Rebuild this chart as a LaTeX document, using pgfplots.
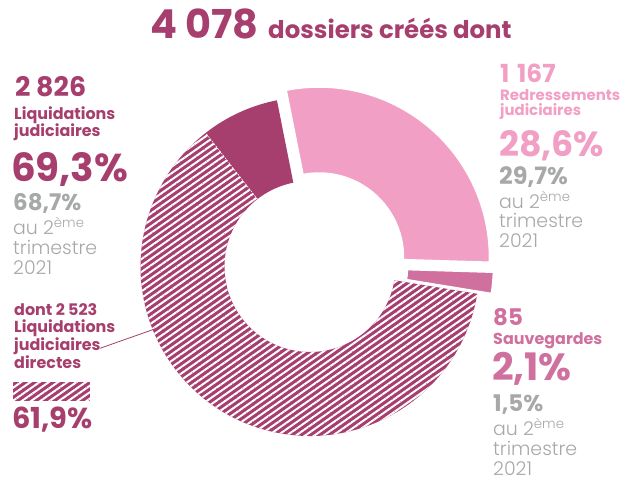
\documentclass[border=0pt]{standalone}
\usepackage{fontspec}
\setmainfont{Poppins}
\IfFontExistsTF{Poppins Light}{\newfontfamily\lightfont{Poppins Light}}{\newfontfamily\lightfont{Poppins}}
\usepackage{pgfplots}
\pgfplotsset{compat=1.18}
\usepackage{pgfplotstable}
\usetikzlibrary{calc,patterns.meta}

\definecolor{liq}{HTML}{A63E6E}
\definecolor{redr}{HTML}{F29FC5}
\definecolor{sauv}{HTML}{CF709F}
\definecolor{grey}{HTML}{A7A8A8}

% dossiers créés, dans l'ordre horaire
\pgfplotstableread{
seg     count
solid   303
redr    1167
sauv    85
direct  2523
}\donut

\newcommand{\fs}[1]{\fontsize{#1}{#1}\selectfont}
\newcommand{\lbl}[4]{\node[anchor=base west,inner sep=0pt,text=#3] at (axis cs:#1,#2) {#4};}
% anneau : cx cy angle1 angle2 R r style
\newcommand{\ring}[7]{\path[#7] ($(axis cs:#1,#2)+(#3:#5bp)$) arc[start angle=#3,end angle=#4,radius=#5bp]
  -- ($(axis cs:#1,#2)+(#4:#6bp)$) arc[start angle=#4,end angle=#3,radius=#6bp] -- cycle;}
\tikzset{hatch/.style={fill=liq,postaction={pattern={Lines[angle=35,distance=5.3bp,line width=2bp]},pattern color=white}}}

\begin{document}
\begin{tikzpicture}
\pgfplotstablegetelem{0}{count}\of\donut \let\nA\pgfplotsretval
\pgfplotstablegetelem{1}{count}\of\donut \let\nB\pgfplotsretval
\pgfplotstablegetelem{2}{count}\of\donut \let\nC\pgfplotsretval
\pgfplotstablegetelem{3}{count}\of\donut \let\nD\pgfplotsretval
\pgfmathsetmacro\total{\nA+\nB+\nC+\nD}
\pgfmathsetmacro\aA{128}
\pgfmathsetmacro\aB{\aA-360*(\nA/\total)}
\pgfmathsetmacro\aC{\aB-360*(\nB/\total)}
\pgfmathsetmacro\aD{\aC-360*(\nC/\total)}
\pgfmathsetmacro\aE{\aD-360*(\nD/\total)}
\begin{axis}[
  scale only axis, width=625bp, height=481bp,
  xmin=0, xmax=625, ymin=0, ymax=481, y dir=reverse,
  enlargelimits=false, hide axis, clip=false]
  % donut
  \ring{310}{266.5}{\aA}{\aB}{169.5}{85.5}{fill=liq}
  \ring{310}{266.5}{\aD}{\aE}{169.5}{85.5}{hatch}
  \draw[white,line width=0.6bp,dash pattern=on 1.5bp off 1.5bp]
    ($(axis cs:310,266.5)+(\aA:85.5bp)$) -- ($(axis cs:310,266.5)+(\aA:169.5bp)$);
  \ring{319}{257.5}{\aB}{\aC}{171}{84}{fill=redr,draw=white,line width=2.5bp}
  \ring{323}{266.5}{\aC}{\aD}{171}{84}{fill=sauv,draw=white,line width=2.5bp}

  % titre
  \lbl{150}{38.3}{liq}{\fs{40}\bfseries 4~078}
  \lbl{268}{38.3}{liq}{\fs{24.5}\bfseries dossiers créés dont}

  % liquidations
  \lbl{15}{96.7}{liq}{\fs{27}\bfseries 2~826}
  \lbl{14}{120}{liq}{\fs{16}\bfseries Liquidations}
  \lbl{14}{136.5}{liq}{\fs{16}\bfseries judiciaires}
  \lbl{11}{181.7}{liq}{\fs{39}\bfseries 69,3\%}
  \lbl{13}{210.5}{grey}{\fs{23}\bfseries 68,7\%}
  \lbl{13}{234}{grey}{\fs{19}\lightfont au 2\textsuperscript{ème}}
  \lbl{13}{254}{grey}{\fs{19}\lightfont trimestre}
  \lbl{13}{274}{grey}{\fs{19}\lightfont 2021}

  % liquidations directes
  \lbl{14}{315}{liq}{\fs{16}\bfseries dont 2~523}
  \lbl{14}{332.7}{liq}{\fs{16}\bfseries Liquidations}
  \lbl{14}{350}{liq}{\fs{16}\bfseries judiciaires}
  \lbl{14}{368.3}{liq}{\fs{16}\bfseries directes}
  \draw[liq,line width=0.8bp] (axis cs:100,348.3) -- (axis cs:156.7,328.3);
  \path[hatch] (axis cs:12.7,381.7) rectangle (axis cs:90,400.7);
  \lbl{12}{428.3}{liq}{\fs{29}\bfseries 61,9\%}

  % redressements
  \lbl{500}{82.7}{redr}{\fs{25}\bfseries 1\hspace{0.3em}167}
  \lbl{500}{100.7}{redr}{\fs{15}\bfseries Redressements}
  \lbl{500}{115.7}{redr}{\fs{15}\bfseries judiciaires}
  \lbl{499}{156.7}{redr}{\fs{35}\bfseries 28,6\%}
  \lbl{499}{184}{grey}{\fs{24}\bfseries 29,7\%}
  \lbl{499}{208}{grey}{\fs{19}\lightfont au 2\textsuperscript{ème}}
  \lbl{499}{227}{grey}{\fs{19}\lightfont trimestre}
  \lbl{499}{247}{grey}{\fs{19}\lightfont 2021}

  % sauvegardes
  \lbl{493}{325}{sauv}{\fs{23}\bfseries 85}
  \lbl{493}{344}{sauv}{\fs{16}\bfseries Sauvegardes}
  \lbl{492}{380}{sauv}{\fs{38}\bfseries 2,1\%}
  \lbl{493}{411.7}{grey}{\fs{23}\bfseries 1,5\%}
  \lbl{493}{435}{grey}{\fs{19}\lightfont au 2\textsuperscript{ème}}
  \lbl{493}{455}{grey}{\fs{19}\lightfont trimestre}
  \lbl{493}{475}{grey}{\fs{19}\lightfont 2021}
\end{axis}
\pgfresetboundingbox
\path[use as bounding box] (0,0) rectangle (625bp,481bp);
\end{tikzpicture}%
\end{document}
